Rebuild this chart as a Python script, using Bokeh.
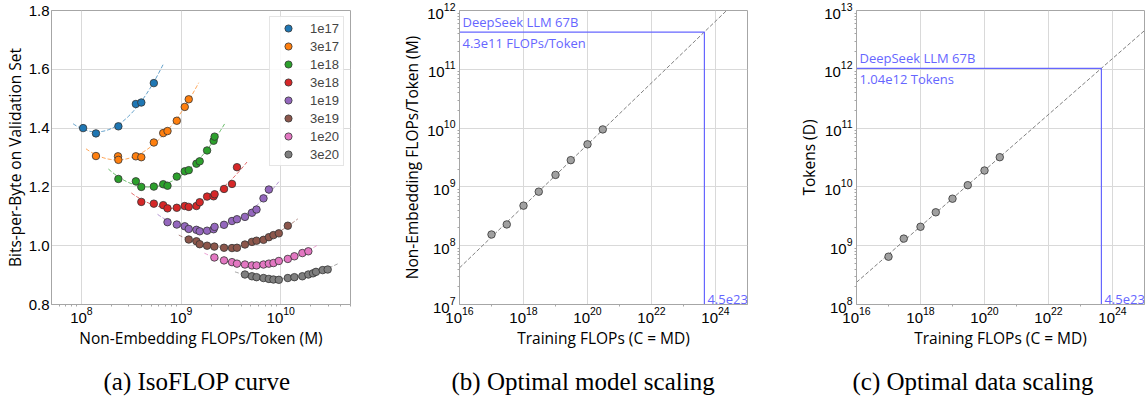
import numpy as np
from bokeh.plotting import figure
from bokeh.models import (Range1d, FixedTicker, LogTickFormatter, Legend, LegendItem,
                          Label, Title, PrintfTickFormatter)
from bokeh.layouts import row
from bokeh.embed import file_html
from bokeh.resources import INLINE

# ---------------- data ----------------
budgets = ["1e17", "3e17", "1e18", "3e18", "1e19", "3e19", "1e20", "3e20"]
colors = ["#1f77b4", "#ff7f0e", "#2ca02c", "#d62728", "#9467bd", "#8c564b", "#e377c2", "#7f7f7f"]

M_1e17 = [1.04e8, 1.40e8, 2.35e8, 3.52e8, 3.99e8, 5.33e8]
bpb_1e17 = [1.400, 1.382, 1.406, 1.482, 1.487, 1.553]

M_3e17 = [1.40e8, 2.33e8, 2.35e8, 3.52e8, 3.99e8, 5.33e8, 6.62e8, 7.31e8, 9.06e8, 1.089e9, 1.194e9]
bpb_3e17 = [1.305, 1.304, 1.292, 1.304, 1.301, 1.351, 1.383, 1.390, 1.425, 1.472, 1.498]

M_1e18 = [2.35e8, 3.52e8, 3.99e8, 5.33e8, 6.62e8, 7.31e8, 9.06e8, 1.089e9, 1.194e9, 1.426e9,
          1.538e9, 1.824e9, 2.12e9, 2.17e9]
bpb_1e18 = [1.227, 1.219, 1.200, 1.201, 1.209, 1.204, 1.235, 1.253, 1.257, 1.279,
            1.287, 1.324, 1.357, 1.371]

M_3e18 = [3.99e8, 5.33e8, 6.62e8, 7.31e8, 9.06e8, 1.089e9, 1.194e9, 1.426e9, 1.538e9, 1.824e9,
          2.12e9, 2.17e9, 2.698e9, 3.243e9, 3.639e9]
bpb_3e18 = [1.149, 1.143, 1.138, 1.127, 1.129, 1.135, 1.132, 1.135, 1.148, 1.167,
            1.168, 1.175, 1.193, 1.210, 1.267]

M_1e19 = [7.31e8, 9.06e8, 1.089e9, 1.194e9, 1.426e9, 1.538e9, 1.824e9, 2.12e9, 2.17e9, 2.698e9,
          3.243e9, 3.639e9, 4.375e9, 5.140e9, 5.715e9, 6.714e9, 7.603e9]
bpb_1e19 = [1.080, 1.072, 1.066, 1.057, 1.054, 1.049, 1.051, 1.056, 1.064, 1.071,
            1.084, 1.090, 1.098, 1.112, 1.123, 1.161, 1.191]

M_3e19 = [1.194e9, 1.426e9, 1.538e9, 1.824e9, 2.158e9, 2.698e9, 3.243e9, 3.639e9, 4.375e9, 5.140e9,
          5.715e9, 6.714e9, 7.603e9, 8.453e9, 9.572e9, 1.178e10]
bpb_3e19 = [1.021, 1.015, 1.005, 1.000, 0.997, 0.993, 0.992, 0.993, 1.004, 1.013,
            1.017, 1.020, 1.029, 1.036, 1.042, 1.068]

M_1e20 = [2.158e9, 2.698e9, 3.243e9, 3.639e9, 4.375e9, 5.140e9, 5.715e9, 6.714e9, 7.603e9, 8.453e9,
          9.572e9, 1.178e10, 1.371e10, 1.648e10, 1.892e10]
bpb_1e20 = [0.960, 0.950, 0.944, 0.939, 0.936, 0.933, 0.933, 0.936, 0.939, 0.941,
            0.948, 0.955, 0.964, 0.975, 0.981]

M_3e20 = [4.375e9, 5.140e9, 5.715e9, 6.714e9, 7.603e9, 8.453e9, 9.572e9, 1.178e10, 1.371e10, 1.648e10,
          1.892e10, 2.109e10, 2.259e10, 2.636e10, 2.958e10]
bpb_3e20 = [0.902, 0.896, 0.893, 0.890, 0.887, 0.885, 0.884, 0.890, 0.893, 0.896,
            0.902, 0.906, 0.911, 0.917, 0.919]

iso_M = [M_1e17, M_3e17, M_1e18, M_3e18, M_1e19, M_3e19, M_1e20, M_3e20]
iso_bpb = [bpb_1e17, bpb_3e17, bpb_1e18, bpb_3e18, bpb_1e19, bpb_3e19, bpb_1e20, bpb_3e20]

# optimal allocation per compute budget
C_budget = [1e17, 3e17, 1e18, 3e18, 1e19, 3e19, 1e20, 3e20]
M_opt = [1.55e8, 2.30e8, 4.80e8, 8.30e8, 1.60e9, 2.85e9, 5.30e9, 9.50e9]
D_opt = [6.5e8, 1.32e9, 2.10e9, 3.70e9, 6.30e9, 1.07e10, 1.90e10, 3.20e10]

# power-law fits  M = a * C^b ,  D = a * C^b
M_fit_coef, M_fit_exp = 0.1715, 0.5243
D_fit_coef, D_fit_exp = 5.8316, 0.4757

C_target = 4.5e23
M_target = 4.3e11
D_target = 1.04e12
model_name = "DeepSeek LLM 67B"
M_target_text = "4.3e11 FLOPs/Token"
D_target_text = "1.04e12 Tokens"
C_target_text = "4.5e23"

captions = ["(a) IsoFLOP curve", "(b) Optimal model scaling", "(c) Optimal data scaling"]

# ---------------- style ----------------
TICK_FONT = "Liberation Sans"
LABEL_FONT = "Open Sans"
CAP_FONT = "Liberation Serif"
ANN_COLOR = "#6666ff"
FRAME = "#a6a6a6"
GRID = "#d9d9d9"
H = 409
TOP = 10
BOTTOM = 104


def style(p):
    p.outline_line_color = FRAME
    p.outline_line_width = 1
    for ax in p.axis:
        ax.axis_line_color = FRAME
        ax.major_tick_out = 0
        ax.major_tick_in = 0
        ax.minor_tick_in = 0
        ax.minor_tick_out = 2
        ax.minor_tick_line_color = FRAME
        ax.major_label_text_font = TICK_FONT
        ax.major_label_text_font_size = "15px"
        ax.major_label_text_color = "black"
        ax.major_label_standoff = 2
        ax.axis_label_text_font = LABEL_FONT
        ax.axis_label_text_font_size = "15.5px"
        ax.axis_label_text_font_style = "normal"
        ax.axis_label_text_color = "black"
        ax.axis_label_standoff = 1
    for ax in p.xaxis:
        ax.major_label_standoff = 0
    p.grid.grid_line_color = GRID
    p.grid.grid_line_width = 1
    p.background_fill_color = "white"
    p.border_fill_color = "white"


def caption(p, text, offset):
    p.add_layout(Title(text=text, align="left", offset=offset, standoff=29,
                       text_font=CAP_FONT, text_font_size="25px",
                       text_font_style="normal", text_color="black"), "below")


# ---------------- (a) IsoFLOP ----------------
p1 = figure(width=390, height=H, x_axis_type="log",
            x_range=Range1d(10 ** 7.7, 10 ** 10.7), y_range=Range1d(0.8, 1.8),
            min_border_left=50, min_border_right=40, min_border_top=TOP, min_border_bottom=BOTTOM,
            output_backend="svg", toolbar_location=None)
p1.xaxis.axis_label = "Non-Embedding FLOPs/Token (M)"
p1.yaxis.axis_label = "Bits-per-Byte on Validation Set"
p1.xaxis.ticker = FixedTicker(ticks=[1e8, 1e9, 1e10],
                              minor_ticks=[m * 10 ** e for e in range(7, 11) for m in range(2, 10)])
p1.xaxis.formatter = LogTickFormatter()
p1.yaxis.ticker = FixedTicker(ticks=[0.8, 1.0, 1.2, 1.4, 1.6, 1.8], minor_ticks=[])
p1.yaxis.formatter = PrintfTickFormatter(format="%.1f")
style(p1)
p1.yaxis.minor_tick_out = 0
p1.yaxis.axis_label_standoff = 0

items = []
for lab, col, Ms, bs in zip(budgets, colors, iso_M, iso_bpb):
    lx = np.log10(np.array(Ms))
    coef = np.polyfit(lx, np.array(bs), 2)
    xx = np.linspace(lx.min() - 0.1, lx.max() + 0.1, 60)
    p1.line(10 ** xx, np.polyval(coef, xx), line_color=col, line_alpha=0.7,
            line_dash="4 2", line_width=1)
for lab, col, Ms, bs in zip(budgets, colors, iso_M, iso_bpb):
    r = p1.scatter(Ms, bs, size=7.5, fill_color=col, line_color="#333333", line_width=0.8)
    items.append(LegendItem(label=lab, renderers=[r]))

leg = Legend(items=items, location="top_right", margin=6, padding=2, spacing=0,
             glyph_width=32, glyph_height=18, label_height=18, label_width=31,
             label_standoff=6, label_text_font=TICK_FONT, label_text_font_size="13px",
             border_line_color="#cccccc", background_fill_alpha=0.85)
p1.add_layout(leg, "center")
caption(p1, captions[0], 52)


# ---------------- (b)/(c) scaling ----------------
def scaling_fig(width, mbl, mbr, ylo, yhi, ylab, yvals, coef, expo, y_target, y_text, cap, cap_off):
    p = figure(width=width, height=H, x_axis_type="log", y_axis_type="log",
               x_range=Range1d(1e16, 1e25), y_range=Range1d(ylo, yhi),
               min_border_left=mbl, min_border_right=mbr, min_border_top=TOP, min_border_bottom=BOTTOM,
               output_backend="svg", toolbar_location=None)
    p.xaxis.axis_label = "Training FLOPs (C = MD)"
    p.yaxis.axis_label = ylab
    p.xaxis.ticker = FixedTicker(ticks=[1e16, 1e18, 1e20, 1e22, 1e24],
                                 minor_ticks=[1e17, 1e19, 1e21, 1e23])
    lo, hi = int(round(np.log10(ylo))), int(round(np.log10(yhi)))
    p.yaxis.ticker = FixedTicker(ticks=[10.0 ** e for e in range(lo, hi + 1)],
                                 minor_ticks=[m * 10.0 ** e for e in range(lo, hi) for m in range(2, 10)])
    p.xaxis.formatter = LogTickFormatter()
    p.yaxis.formatter = LogTickFormatter()
    style(p)
    cx = np.array([1e16, 1e25])
    p.line(cx, coef * cx ** expo, line_color="#808080", line_dash="4 2", line_width=1)
    p.line([1e16, C_target], [y_target, y_target], line_color=ANN_COLOR, line_width=1.2)
    p.line([C_target, C_target], [ylo, y_target], line_color=ANN_COLOR, line_width=1.2)
    p.scatter(C_budget, yvals, size=7.5, fill_color="#a0a0a0", line_color="#333333", line_width=0.8)
    kw = dict(text_font=LABEL_FONT, text_font_size="13px", text_color=ANN_COLOR)
    p.add_layout(Label(x=1e16, y=y_target, x_offset=3, y_offset=1, text=model_name,
                       text_baseline="bottom", **kw))
    p.add_layout(Label(x=1e16, y=y_target, x_offset=3, y_offset=-2, text=y_text,
                       text_baseline="top", **kw))
    p.add_layout(Label(x=C_target, y=ylo, x_offset=3, y_offset=1, text=C_target_text,
                       text_baseline="bottom", **kw))
    caption(p, cap, cap_off)
    return p


p2 = scaling_fig(390, 69, 33, 1e7, 1e12, "Non-Embedding FLOPs/Token (M)", M_opt,
                 M_fit_coef, M_fit_exp, M_target, M_target_text, captions[1], -8)
p3 = scaling_fig(366, 76, 2, 1e8, 1e13, "Tokens (D)", D_opt,
                 D_fit_coef, D_fit_exp, D_target, D_target_text, captions[2], -4)

layout = row(p1, p2, p3)
open("out.html", "w").write(file_html(layout, INLINE))
